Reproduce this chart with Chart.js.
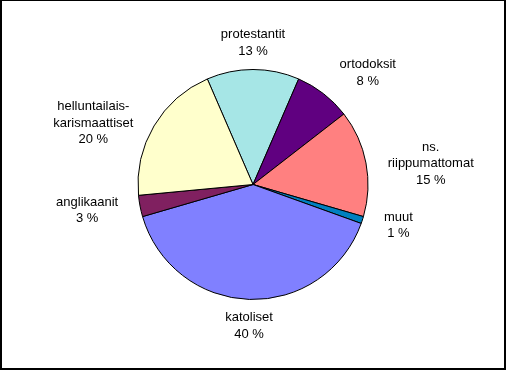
<!DOCTYPE html>
<html>
<head>
<meta charset="utf-8">
<script src="https://cdn.jsdelivr.net/npm/chart.js@4.4.1/dist/chart.umd.min.js"></script>
<style>
  html, body { margin: 0; padding: 0; background: #fff; }
  #wrap { width: 506px; height: 370px; }
</style>
</head>
<body>
<div id="wrap"><canvas id="chart" width="506" height="370"></canvas></div>
<script>
const categories = [
    ['protestantit'],
    ['ortodoksit'],
    ['ns.', 'riippumattomat'],
    ['muut'],
    ['katoliset'],
    ['anglikaanit'],
    ['helluntailais-', 'karismaattiset']
];
const shares = [13, 8, 15, 1, 40, 3, 20];
const sliceColors = ['#A6E6E6', '#600080', '#FF8080', '#0080C0', '#8080FF', '#802060', '#FFFFCC'];

const total = shares.reduce((a, b) => a + b, 0);

// labels outside the pie, Excel style: anchored a bit beyond the rim
const outsideLabels = {
    id: 'outsideLabels',
    afterDatasetsDraw(chart) {
        const ctx = chart.ctx;
        const meta = chart.getDatasetMeta(0);
        const lineH = 16.5;
        ctx.save();
        ctx.font = '13px "Liberation Sans", Arial, sans-serif';
        ctx.fillStyle = '#000';
        ctx.textAlign = 'center';
        ctx.textBaseline = 'middle';
        meta.data.forEach((arc, i) => {
            const p = arc.getProps(['x', 'y', 'startAngle', 'endAngle', 'outerRadius'], true);
            const mid = (p.startAngle + p.endAngle) / 2;
            const cos = Math.cos(mid), sin = Math.sin(mid);
            const r = p.outerRadius + 10;
            const ax = p.x + cos * r;
            const ay = p.y + sin * r;
            const lines = categories[i].concat([Math.round(shares[i] / total * 100) + ' %']);
            const w = Math.max(...lines.map(l => ctx.measureText(l).width));
            const h = lines.length * lineH;
            let cx, cy;
            if (Math.abs(cos) < 0.3) {
                cx = ax;
            } else {
                cx = ax + Math.sign(cos) * (w / 2 + (Math.abs(cos) < 0.7 ? 10 : 12));
            }
            if (Math.abs(cos) < 0.7) {
                cy = ay + sin * h / 2;
            } else {
                cy = ay + 2.5;
            }
            lines.forEach((l, k) => {
                ctx.fillText(l, cx, cy - h / 2 + lineH * (k + 0.5));
            });
        });
        ctx.restore();
    },
    afterDraw(chart) {
        const ctx = chart.ctx;
        const W = chart.width, H = chart.height;
        ctx.save();
        ctx.fillStyle = '#000';
        ctx.fillRect(0, 0, W, 1);
        ctx.fillRect(0, 0, 2, H);
        ctx.fillRect(W - 2, 0, 2, H);
        ctx.fillRect(0, H - 2, W, 2);
        ctx.restore();
    }
};

new Chart(document.getElementById('chart').getContext('2d'), {
    type: 'pie',
    data: {
        labels: categories,
        datasets: [{
            data: shares,
            backgroundColor: sliceColors,
            borderColor: '#000',
            borderWidth: 1
        }]
    },
    options: {
        responsive: false,
        animation: false,
        rotation: -23.4,
        radius: 115,
        layout: { padding: { top: 70, bottom: 71, left: 100, right: 100 } },
        plugins: {
            legend: { display: false },
            tooltip: { enabled: false }
        }
    },
    plugins: [outsideLabels]
});
</script>
</body>
</html>
